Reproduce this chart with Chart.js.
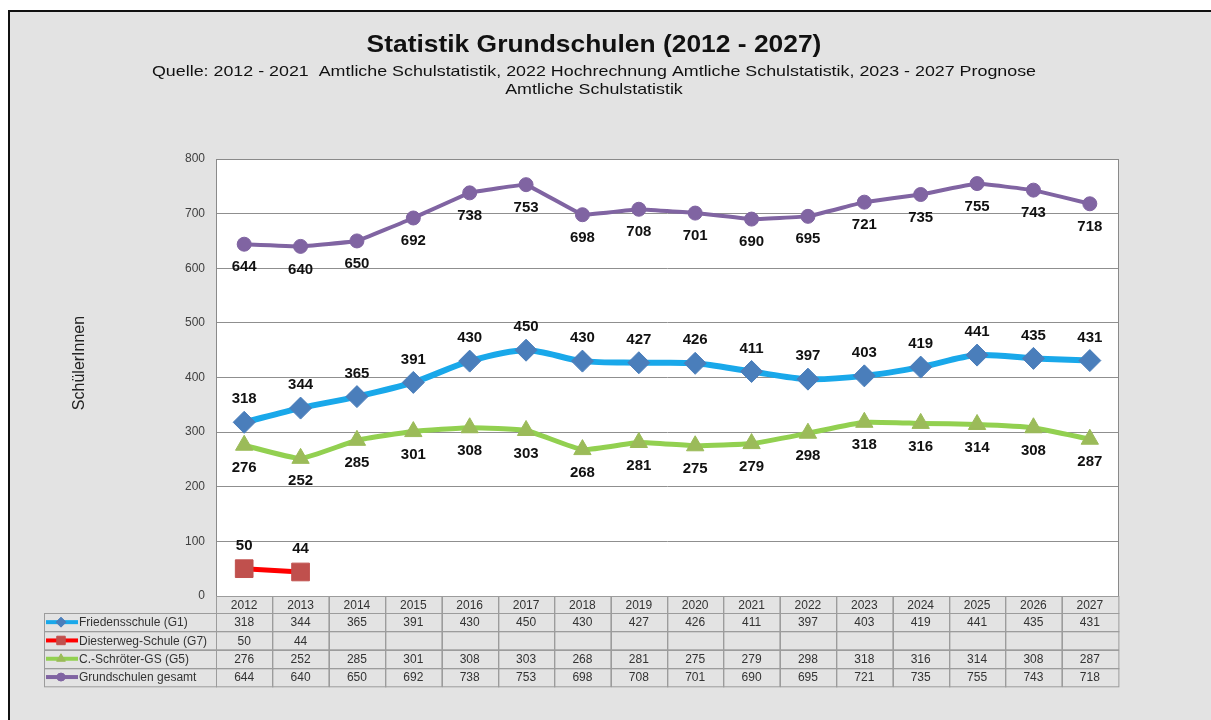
<!DOCTYPE html>
<html>
<head>
<meta charset="utf-8">
<script src="https://cdn.jsdelivr.net/npm/chart.js@4.4.1/dist/chart.umd.min.js"></script>
<style>
  html, body { margin: 0; padding: 0; background: #fff; }
  #wrap { width: 1211px; height: 720px; position: relative; }
</style>
</head>
<body>
<div id="wrap"><canvas id="chart" width="1211" height="720"></canvas></div>
<script>
// --- data ---
const years = ['2012','2013','2014','2015','2016','2017','2018','2019','2020','2021','2022','2023','2024','2025','2026','2027'];
const friedensschule = [318,344,365,391,430,450,430,427,426,411,397,403,419,441,435,431];
const diesterweg = [50,44,null,null,null,null,null,null,null,null,null,null,null,null,null,null];
const schroeter = [276,252,285,301,308,303,268,281,275,279,298,318,316,314,308,287];
const gesamt = [644,640,650,692,738,753,698,708,701,690,695,721,735,755,743,718];
const yMin = 0, yMax = 800, yStep = 100;

const titleText = 'Statistik Grundschulen (2012 - 2027)';
const subtitleLines = [
    'Quelle: 2012 - 2021  Amtliche Schulstatistik, 2022 Hochrechnung Amtliche Schulstatistik, 2023 - 2027 Prognose',
    'Amtliche Schulstatistik'
];
const yTitle = 'SchülerInnen';

const FONT = "'Liberation Sans', Arial, sans-serif";

// labels above (-) or below (+) the points, per dataset
const labelOffset = [-23, -23, 23, 23];

// the header text in the original is stretched sideways
function stretchedText(ctx, text, x, y, stretch) {
    ctx.save();
    ctx.translate(x, y);
    ctx.scale(stretch, 1);
    ctx.fillText(text, 0, 0);
    ctx.restore();
}

// --- page frame, plot background ---
const framePlugin = {
    id: 'frame',
    beforeDraw(chart) {
        const ctx = chart.ctx;
        const a = chart.chartArea;
        ctx.save();
        ctx.fillStyle = '#ffffff';
        ctx.fillRect(0, 0, chart.width, chart.height);
        ctx.fillStyle = '#e3e3e3';
        ctx.fillRect(9, 11, chart.width - 9, chart.height - 11);
        ctx.strokeStyle = '#111';
        ctx.lineWidth = 2;
        ctx.beginPath();
        ctx.moveTo(9, chart.height);
        ctx.lineTo(9, 11);
        ctx.lineTo(chart.width, 11);
        ctx.stroke();
        ctx.fillStyle = '#ffffff';
        ctx.fillRect(a.left, a.top, a.right - a.left, a.bottom - a.top);
        ctx.restore();
    }
};

// --- titles, labels, data table ---
const extrasPlugin = {
    id: 'extras',
    afterDraw(chart) {
        const ctx = chart.ctx;
        const a = chart.chartArea;
        const xs = chart.scales.x;
        ctx.save();

        // plot border
        ctx.strokeStyle = '#8a8a8a';
        ctx.lineWidth = 1;
        ctx.strokeRect(a.left + 0.5, a.top + 0.5, a.right - a.left, a.bottom - a.top);

        // titles
        ctx.fillStyle = '#111';
        ctx.textAlign = 'center';
        ctx.textBaseline = 'middle';
        ctx.font = 'bold 24px ' + FONT;
        stretchedText(ctx, titleText, 594, 45, 1.1);
        ctx.font = '15px ' + FONT;
        subtitleLines.forEach((t, i) => stretchedText(ctx, t, 594, 72 + i * 18, 1.19));

        // y axis title
        ctx.save();
        ctx.translate(80, 363);
        ctx.rotate(-Math.PI / 2);
        ctx.font = '16px ' + FONT;
        ctx.fillStyle = '#222';
        ctx.fillText(yTitle, 0, 0);
        ctx.restore();

        // data labels
        ctx.font = 'bold 15px ' + FONT;
        ctx.fillStyle = '#111';
        chart.data.datasets.forEach((ds, di) => {
            const meta = chart.getDatasetMeta(di);
            meta.data.forEach((pt, i) => {
                const v = ds.data[i];
                if (v === null || v === undefined) return;
                ctx.fillText(String(v), pt.x, pt.y + labelOffset[di]);
            });
        });

        // data table
        const colW = (a.right - a.left) / years.length;
        const headTop = a.bottom;
        const headH = 17;
        const rowH = 18.3;
        const labelLeft = 44;
        ctx.strokeStyle = '#9c9c9c';
        ctx.lineWidth = 1;
        ctx.font = '12px ' + FONT;
        ctx.fillStyle = '#333';

        // header row
        years.forEach((y, i) => {
            const cx = xs.getPixelForValue(i);
            ctx.strokeRect(Math.round(cx - colW / 2) + 0.5, headTop + 0.5, colW, headH);
            ctx.textAlign = 'center';
            ctx.fillText(y, cx, headTop + headH / 2 + 1);
        });

        const rows = chart.data.datasets;
        rows.forEach((ds, ri) => {
            const top = headTop + headH + ri * rowH;
            const mid = top + rowH / 2;
            // label cell
            ctx.strokeRect(labelLeft + 0.5, Math.round(top) + 0.5, a.left - labelLeft, rowH);
            // legend key
            ctx.save();
            ctx.strokeStyle = ds.borderColor;
            ctx.lineWidth = 4;
            ctx.beginPath();
            ctx.moveTo(46, mid);
            ctx.lineTo(78, mid);
            ctx.stroke();
            ctx.fillStyle = ds.pointBackgroundColor;
            ctx.strokeStyle = ds.pointBackgroundColor;
            ctx.lineWidth = 1;
            Chart.helpers.drawPoint(ctx, { pointStyle: ds.pointStyle, radius: ds.keyRadius, borderWidth: 1 }, 61, mid);
            ctx.restore();
            ctx.textAlign = 'left';
            ctx.fillStyle = '#333';
            ctx.fillText(ds.label, 79, mid + 1);
            // value cells
            years.forEach((y, i) => {
                const cx = xs.getPixelForValue(i);
                ctx.strokeRect(Math.round(cx - colW / 2) + 0.5, Math.round(top) + 0.5, colW, rowH);
                const v = ds.data[i];
                if (v === null || v === undefined) return;
                ctx.textAlign = 'center';
                ctx.fillText(String(v), cx, mid + 1);
            });
        });

        ctx.restore();
    }
};

new Chart(document.getElementById('chart'), {
    type: 'line',
    data: {
        labels: years,
        datasets: [
            {
                label: 'Friedensschule (G1)',
                data: friedensschule,
                borderColor: '#19a8ea',
                borderWidth: 6,
                pointStyle: 'rectRot',
                pointRadius: 11,
                keyRadius: 5,
                pointBackgroundColor: '#4a7ebb',
                pointBorderColor: '#4a7ebb',
                pointBorderWidth: 1,
                tension: 0.3
            },
            {
                label: 'Diesterweg-Schule (G7)',
                data: diesterweg,
                borderColor: '#ff0000',
                borderWidth: 5,
                pointStyle: 'rect',
                pointRadius: 12.5,
                keyRadius: 6,
                pointBackgroundColor: '#c0504d',
                pointBorderColor: '#c0504d',
                pointBorderWidth: 1,
                tension: 0
            },
            {
                label: 'C.-Schröter-GS (G5)',
                data: schroeter,
                borderColor: '#92d050',
                borderWidth: 5,
                pointStyle: 'triangle',
                pointRadius: 10,
                keyRadius: 5,
                pointBackgroundColor: '#9bbb59',
                pointBorderColor: '#9bbb59',
                pointBorderWidth: 1,
                tension: 0.15
            },
            {
                label: 'Grundschulen gesamt',
                data: gesamt,
                borderColor: '#8064a2',
                borderWidth: 4,
                pointStyle: 'circle',
                pointRadius: 7,
                keyRadius: 4,
                pointBackgroundColor: '#8064a2',
                pointBorderColor: '#8064a2',
                pointBorderWidth: 1,
                tension: 0.05
            }
        ]
    },
    options: {
        responsive: false,
        animation: false,
        devicePixelRatio: 1,
        spanGaps: false,
        layout: { padding: { top: 159, left: 116, right: 93, bottom: 124 } },
        plugins: {
            legend: { display: false },
            title: { display: false },
            tooltip: { enabled: false }
        },
        scales: {
            x: {
                offset: true,
                grid: { display: false },
                border: { display: false },
                ticks: { display: false },
                afterFit(s) { s.height = 0; }
            },
            y: {
                min: yMin,
                max: yMax,
                afterFit(s) { s.width = 100; },
                ticks: {
                    stepSize: yStep,
                    padding: 11,
                    color: '#404040',
                    font: { family: FONT, size: 12 }
                },
                grid: { color: '#8f8f8f', drawTicks: false, lineWidth: 1 },
                border: { display: true, color: '#8a8a8a' }
            }
        }
    },
    plugins: [framePlugin, extrasPlugin]
});
</script>
</body>
</html>
